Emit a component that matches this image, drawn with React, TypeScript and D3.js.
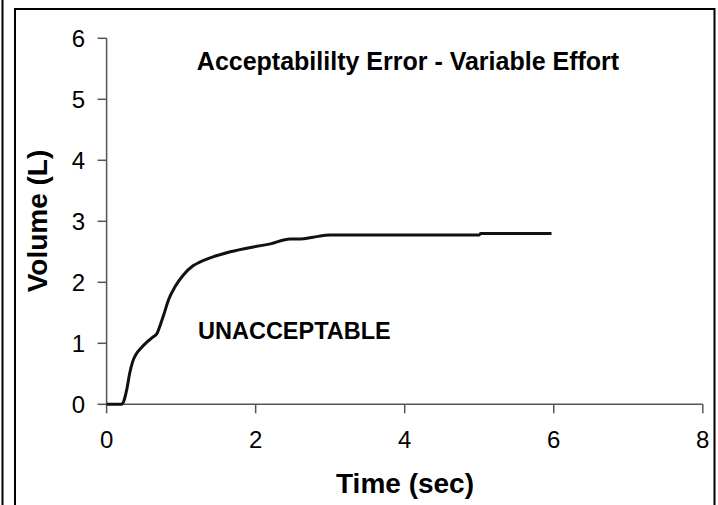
import React from "react";
import * as d3 from "d3";

const times = [0, 0.2, 0.23, 0.27, 0.31, 0.35, 0.4, 0.46, 0.54, 0.62, 0.68, 0.72, 0.77, 0.83, 0.92, 1.03, 1.16, 1.25, 1.39, 1.66, 1.97, 2.2, 2.46, 2.6, 2.77, 3.0, 4.0, 5.0, 5.02, 5.97];
const volumes = [0, 0, 0.05, 0.24, 0.51, 0.7, 0.83, 0.92, 1.02, 1.1, 1.17, 1.3, 1.48, 1.71, 1.93, 2.12, 2.27, 2.33, 2.4, 2.5, 2.58, 2.63, 2.71, 2.71, 2.74, 2.775, 2.775, 2.775, 2.8, 2.8];
const xTicks = [0, 2, 4, 6, 8];
const yTicks = [0, 1, 2, 3, 4, 5, 6];
const titleText = "Acceptabililty Error - Variable Effort";
const noteText = "UNACCEPTABLE";
const xTitle = "Time (sec)";
const yTitle = "Volume (L)";

export default function App() {
  const W = 718, H = 505;
  const x = d3.scaleLinear().domain([0, 8]).range([106.6, 702.8]);
  const y = d3.scaleLinear().domain([0, 6]).range([404.3, 38.3]);
  const pts = times.map((t, i) => [t, volumes[i]] as [number, number]);
  const line = d3.line<[number, number]>().x(d => x(d[0])).y(d => y(d[1])).curve(d3.curveMonotoneX);
  const font = "'Liberation Sans', Arial, sans-serif";
  const axisColor = "#555";
  return (
    <svg width={W} height={H} style={{ position: "absolute", left: 0, top: 0, background: "#fff" }} fontFamily={font}>
      <rect x={0} y={0} width={W} height={H} fill="#fff" />
      <line x1={2.5} x2={2.5} y1={0} y2={H} stroke="#000" strokeWidth={2} />
      <path d={`M15,${H + 5} L15,9 L714.5,9 L714.5,${H + 5}`} fill="none" stroke="#000" strokeWidth={2} />
      {/* axes */}
      <line x1={x(0)} x2={x(0)} y1={y(6)} y2={y(0)} stroke={axisColor} strokeWidth={1.5} />
      <line x1={x(0)} x2={x(8)} y1={y(0)} y2={y(0)} stroke={axisColor} strokeWidth={1.5} />
      {yTicks.map(v => (
        <g key={"y" + v}>
          <line x1={x(0) - 9} x2={x(0)} y1={y(v)} y2={y(v)} stroke={axisColor} strokeWidth={1.5} />
          <text x={85} y={y(v)} dy="0.36em" textAnchor="end" fontSize={24} fill="#000">{v}</text>
        </g>
      ))}
      {xTicks.map(v => (
        <g key={"x" + v}>
          <line x1={x(v)} x2={x(v)} y1={y(0)} y2={y(0) + 9} stroke={axisColor} strokeWidth={1.5} />
          <text x={x(v)} y={448} textAnchor="middle" fontSize={24} fill="#000">{v}</text>
        </g>
      ))}
      <path d={line(pts) || ""} fill="none" stroke="#111" strokeWidth={3} />
      <text x={408} y={70} textAnchor="middle" fontSize={25} fontWeight="bold">{titleText}</text>
      <text x={198} y={339} fontSize={23.5} fontWeight="bold">{noteText}</text>
      <text x={405} y={493} textAnchor="middle" fontSize={28} fontWeight="bold">{xTitle}</text>
      <text transform="translate(47,221) rotate(-90)" textAnchor="middle" fontSize={28} fontWeight="bold">{yTitle}</text>
    </svg>
  );
}
